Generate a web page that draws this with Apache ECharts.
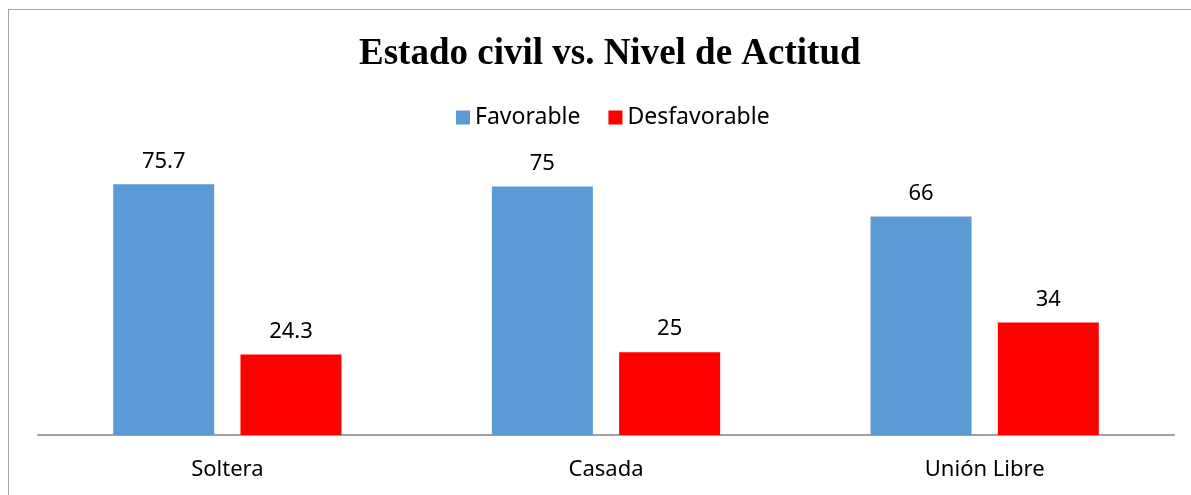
<!DOCTYPE html>
<html>
<head>
<meta charset="utf-8">
<script src="https://cdn.jsdelivr.net/npm/echarts@6/dist/echarts.min.js"></script>
<style>
    html, body { margin: 0; padding: 0; background: #fff; }
    #chart { width: 1191px; height: 495px; position: relative; }
    /* marco del gráfico, se sale por la derecha y abajo */
    .frame { position: absolute; left: 8px; top: 9px; width: 1200px; height: 500px; border: 1px solid #a6a6a6; box-sizing: border-box; pointer-events: none; }
</style>
</head>
<body>
<div id="chart"></div>
<div class="frame"></div>
<script>
    const categories = ['Soltera', 'Casada', 'Unión Libre'];
    const seriesNames = ['Favorable', 'Desfavorable'];
    const favorable = [75.7, 75, 66];
    const desfavorable = [24.3, 25, 34];

    const textFont = '"Noto Sans", sans-serif';

    const myChart = echarts.init(document.getElementById('chart'));
    myChart.setOption({
        animation: false,
        title: {
            text: 'Estado civil vs. Nivel de Actitud',
            left: 354,
            top: 31,
            textStyle: {
                fontFamily: '"Liberation Serif", "Times New Roman", serif',
                fontWeight: 'bold',
                fontSize: 37,
                color: '#000'
            }
        },
        legend: {
            data: seriesNames,
            top: 101,
            left: 451,
            icon: 'rect',
            itemWidth: 14,
            itemHeight: 14,
            itemGap: 28,
            textStyle: { fontFamily: textFont, fontSize: 23, color: '#000' }
        },
        grid: { left: 38, right: 17, top: 170, bottom: 60 },
        xAxis: {
            type: 'category',
            data: categories,
            axisLine: { lineStyle: { color: '#a0a0a0', width: 2 } },
            axisTick: { show: false },
            axisLabel: { fontFamily: textFont, fontSize: 22, color: '#000', margin: 24 }
        },
        yAxis: {
            type: 'value',
            min: 0,
            max: 80,
            show: false,
            splitLine: { show: false }
        },
        series: [
            {
                name: seriesNames[0],
                type: 'bar',
                data: favorable,
                barWidth: 101,
                barGap: '26%',
                itemStyle: { color: '#5b9bd5' },
                label: { show: true, position: 'top', distance: 12, fontFamily: textFont, fontSize: 22, color: '#000' }
            },
            {
                name: seriesNames[1],
                type: 'bar',
                data: desfavorable,
                barWidth: 101,
                itemStyle: { color: '#ff0000' },
                label: { show: true, position: 'top', distance: 12, fontFamily: textFont, fontSize: 22, color: '#000' }
            }
        ]
    });
</script>
</body>
</html>
